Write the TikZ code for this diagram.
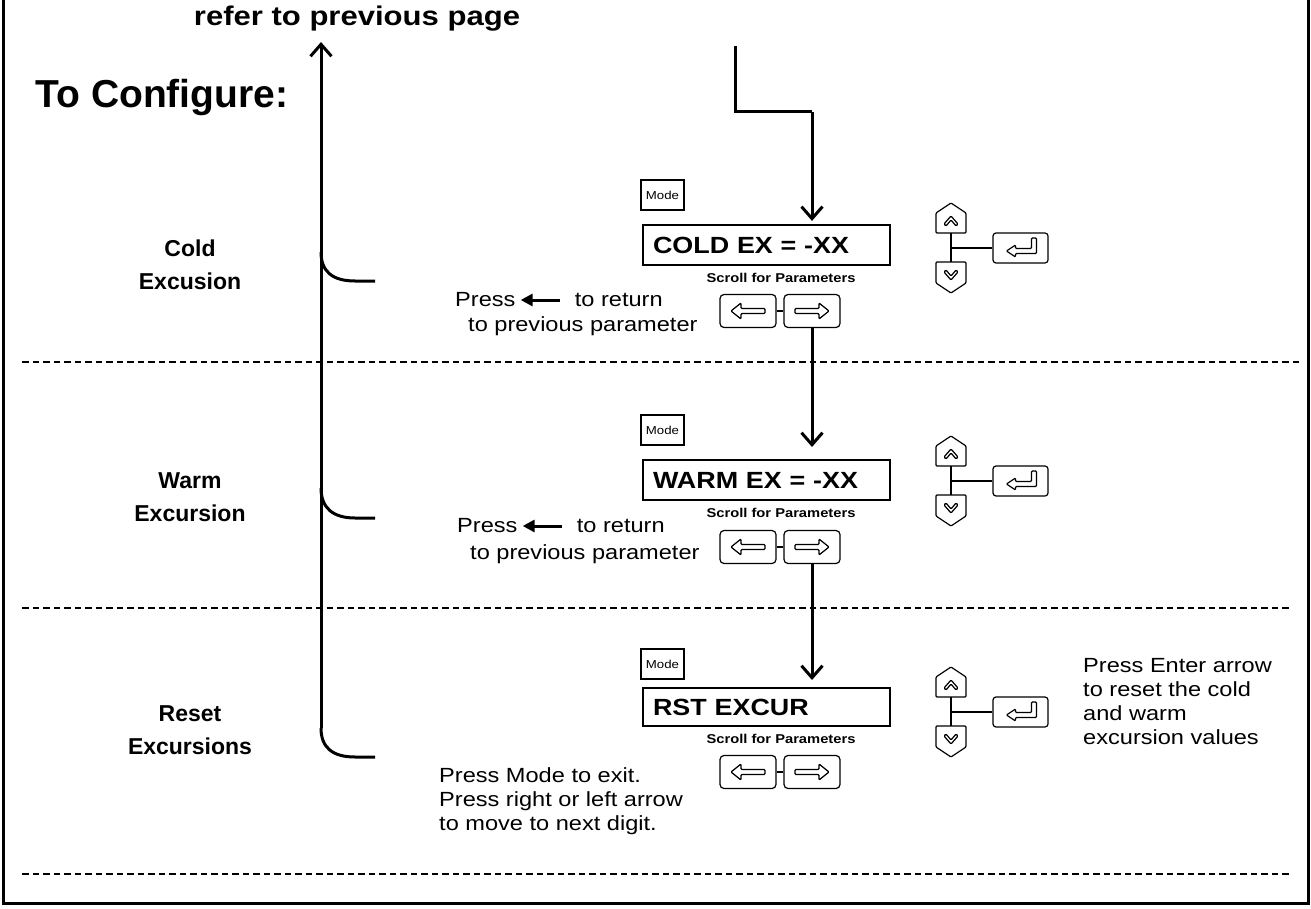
\documentclass[tikz,border=0pt]{standalone}
\usepackage{fontspec}
\setmainfont[FakeStretch=1.15]{Liberation Sans}
\newfontfamily\plainsans{Liberation Sans}
\usetikzlibrary{arrows.meta}
\tikzset{
 frameline/.style={line width=3pt},
 heavy/.style={line width=3pt},
 arr/.style={heavy, -{Straight Barb[length=12pt,width=21pt]}},
 dashline/.style={line width=1.4pt, dash pattern=on 6.5pt off 4pt},
 disp/.style={draw, line width=2.2pt, text width=227pt, inner xsep=10pt, inner ysep=0pt, minimum height=40pt, align=left, font=\bfseries\fontsize{23.4}{28}\selectfont},
 modebox/.style={draw, line width=1.1pt, minimum width=43pt, minimum height=30pt, inner sep=0pt, font=\fontsize{11.5}{13}\selectfont},
 btn/.style={draw, line width=1.2pt, rounded corners=4pt, minimum width=56pt, minimum height=33pt, inner sep=0pt},
 keyline/.style={line width=1.2pt, rounded corners=1pt},
 lbl/.style={font=\plainsans\bfseries\fontsize{23}{33}\selectfont, align=center},
 body/.style={font=\fontsize{20.5}{24}\selectfont, inner sep=0pt},
 scroll/.style={font=\bfseries\fontsize{12.8}{14}\selectfont, inner sep=0pt},
 lkey/.pic={\node[btn] (-b) {};
   \draw[keyline] (-17,0) -- (-7,-8) -- (-7,-2.5) -- (17,-2.5) -- (17,2.5) -- (-7,2.5) -- (-7,8) -- cycle;},
 rkey/.pic={\node[btn] (-b) {};
   \draw[keyline] (17,0) -- (7,-8) -- (7,-2.5) -- (-17,-2.5) -- (-17,2.5) -- (7,2.5) -- (7,8) -- cycle;},
 cluster/.pic={
   \draw[keyline] (0,-45) -- (15,-35) -- (15,-15) -- (-15,-15) -- (-15,-35) -- cycle;
   \draw[keyline] (-7,-24) -- (0,-32) -- (7,-24) -- (5,-22) -- (0,-28) -- (-5,-22) -- cycle;
   \draw[keyline] (0,45) -- (15,35) -- (15,14) -- (-15,14) -- (-15,35) -- cycle;
   \draw[keyline] (-7,24) -- (0,32) -- (7,24) -- (5,22) -- (0,28) -- (-5,22) -- cycle;
   \node[btn, minimum width=55pt, minimum height=30pt, rounded corners=3pt] (-ent) at (69.5,0) {};
   \draw[line width=2.2pt] (0,-15) -- (0,14);
   \draw[line width=2.2pt] (0,0) -- (-ent.west);
   \draw[keyline, shift={(69.5,0)}] (-14,3) -- (-5,-3) -- (-5,0.5) -- (11,0.5) -- (11,-10) -- (16,-10) -- (16,5.5) -- (-5,5.5) -- (-5,9) -- cycle;
 },
}
\begin{document}
\begin{tikzpicture}[x=1pt,y=-1pt]
\useasboundingbox (0,0) rectangle (1311,909);
% frame and separators
\draw[frameline] (3,0) -- (3,903) -- (1308,903) -- (1308,0);
\draw[dashline] (22,362) -- (1302,362);
\draw[dashline] (22,608) -- (1290,608);
\draw[dashline] (22,874) -- (1290,874);

% titles
\node[font=\bfseries\fontsize{27}{32}\selectfont] (ref) at (357,19) {refer to previous page};
\node[anchor=west, font=\plainsans\bfseries\fontsize{39}{45}\selectfont] (conf) at (32,98) {To Configure:};

% section labels
\node[lbl] (lcold) at (190,265) {Cold\\Excusion};
\node[lbl] (lwarm) at (190,497) {Warm\\Excursion};
\node[lbl] (lreset) at (190,730) {Reset\\Excursions};

% left return line with branches
\coordinate (vtop) at (321,42);
\coordinate (vb1) at (321,252); \coordinate (ve1) at (375,281);
\coordinate (vb2) at (321,488); \coordinate (ve2) at (375,518);
\coordinate (vb3) at (321,728); \coordinate (ve3) at (375,757);
\draw[arr] (vb3) -- (vtop);
\draw[heavy] (vb1) .. controls (321,272) and (333,281) .. (355,281) -- (ve1);
\draw[heavy] (vb2) .. controls (321,508) and (333,518) .. (355,518) -- (ve2);
\draw[heavy] (vb3) .. controls (321,748) and (333,757) .. (355,757) -- (ve3);

% ---- Cold section
\node[modebox] (m1) at (662.5,195) {Mode};
\node[disp] (d1) at (766.5,245) {COLD EX = -XX};
\node[scroll] (s1) at (781,278) {Scroll for Parameters};
\pic (l1) at (748,311) {lkey};
\pic (r1) at (812,311) {rkey};
\draw[line width=1.2pt] (l1-b) -- (r1-b);
\pic (c1) at (951,248) {cluster};
\node[body, anchor=west] (p1) at (455,300) {Press};
\draw[heavy, -{Triangle[length=12pt,width=12pt]}] ([xshift=44pt]p1.east) -- ([xshift=5pt]p1.east);
\node[body, anchor=west] (p1b) at ([xshift=59pt]p1.east) {to return};
\node[body, anchor=west] (p1c) at (468,326) {to previous parameter};

% entry connector
\coordinate (tin) at (735,46);
\coordinate (tcorner) at (735,112);
\draw[heavy] (tin) -- (tcorner) -- (r1-b.north |- tcorner);
\draw[arr, shorten >=3pt] (r1-b.north |- tcorner) -- (r1-b.north |- d1.north);

% ---- Warm section
\draw[arr, shorten >=13pt] (r1-b.south) -- (r1-b.south |- 0,460);
\node[modebox] (m2) at (662.5,430) {Mode};
\node[disp] (d2) at (766.5,480) {WARM EX = -XX};
\node[scroll] (s2) at (781,513) {Scroll for Parameters};
\pic (l2) at (748,547) {lkey};
\pic (r2) at (812,547) {rkey};
\draw[line width=1.2pt] (l2-b) -- (r2-b);
\pic (c2) at (951,481) {cluster};
\node[body, anchor=west] (p2) at (457,526) {Press};
\draw[heavy, -{Triangle[length=12pt,width=12pt]}] ([xshift=44pt]p2.east) -- ([xshift=5pt]p2.east);
\node[body, anchor=west] (p2b) at ([xshift=59pt]p2.east) {to return};
\node[body, anchor=west] (p2c) at (470,554) {to previous parameter};

% ---- Reset section
\draw[arr, shorten >=10pt] (r2-b.south) -- (r2-b.south |- 0,690);
\node[modebox] (m3) at (662.5,664) {Mode};
\node[disp, minimum height=38pt] (d3) at (766.5,707) {RST EXCUR};
\node[scroll] (s3) at (781,739) {Scroll for Parameters};
\pic (l3) at (748,772) {lkey};
\pic (r3) at (812,772) {rkey};
\draw[line width=1.2pt] (l3-b) -- (r3-b);
\pic (c3) at (951,712) {cluster};
\node[body, anchor=north west, align=left] (pm) at (439,767) {Press Mode to exit.\\Press right or left arrow\\to move to next digit.};
\node[body, anchor=north west, align=left] (pe) at (1083,658) {Press Enter arrow\\to reset the cold\\and warm\\excursion values};
\end{tikzpicture}
\end{document}
